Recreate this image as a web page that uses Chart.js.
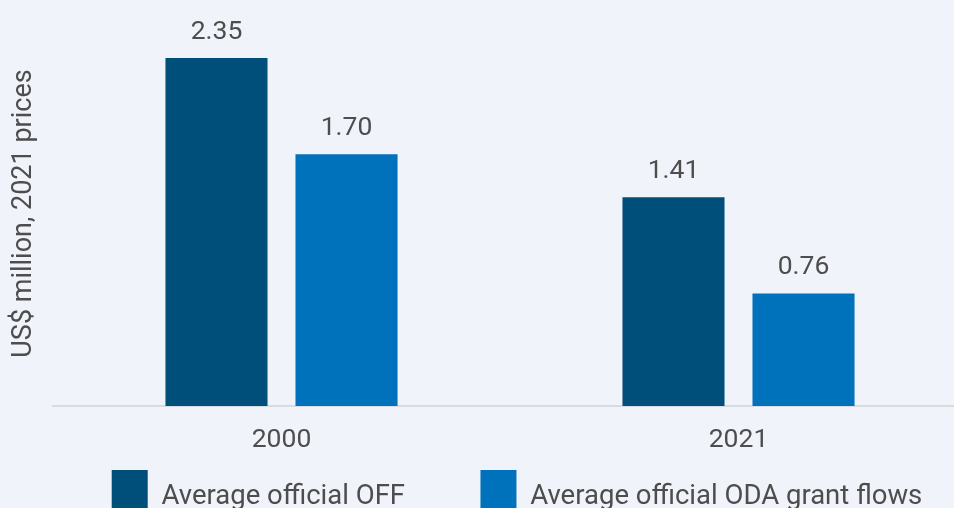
<!DOCTYPE html>
<html>
<head>
<meta charset="utf-8">
<script src="https://cdn.jsdelivr.net/npm/chart.js@4/dist/chart.umd.min.js"></script>
<style>
  html, body { margin: 0; padding: 0; background: #f0f3fa; overflow: hidden; }
  #wrap { width: 1034px; height: 534px; }
</style>
</head>
<body>
<div id="wrap"><canvas id="chart"></canvas></div>
<script>
// === DATA ===
const years = ['2000', '2021'];
const offValues = [2.35, 1.41];
const odaValues = [1.70, 0.76];
const seriesNames = ['Average official OFF', 'Average official ODA grant flows'];

const textColor = '#4d4d4d';
const font = 'Roboto, "Noto Sans", sans-serif';

// value labels above each bar
const barLabels = {
  id: 'barLabels',
  afterDatasetsDraw(chart) {
    const ctx = chart.ctx;
    ctx.save();
    ctx.font = '26.5px ' + font;
    ctx.fillStyle = textColor;
    ctx.textAlign = 'center';
    ctx.textBaseline = 'alphabetic';
    chart.data.datasets.forEach((ds, i) => {
      chart.getDatasetMeta(i).data.forEach((bar, j) => {
        ctx.fillText(ds.data[j].toFixed(2), bar.x, bar.y - 19);
      });
    });
    ctx.restore();
  }
};

new Chart(document.getElementById('chart'), {
  type: 'bar',
  data: {
    labels: years,
    datasets: [
      { label: seriesNames[0], data: offValues, backgroundColor: '#004f7a', borderWidth: 0 },
      { label: seriesNames[1], data: odaValues, backgroundColor: '#0072bb', borderWidth: 0 }
    ]
  },
  options: {
    responsive: true,
    maintainAspectRatio: false,
    animation: false,
    categoryPercentage: 0.569,
    barPercentage: 0.785,
    layout: { padding: { top: 21, left: 0, right: 0, bottom: 0 } },
    plugins: {
      tooltip: { enabled: false },
      legend: {
        position: 'bottom',
        labels: {
          color: textColor,
          font: { family: font, size: 27.5 },
          boxWidth: 36,
          boxHeight: 54,
          padding: 14,
          generateLabels(chart) {
            const items = Chart.defaults.plugins.legend.labels.generateLabels(chart);
            items[0].text += ' '.repeat(9);
            return items;
          }
        }
      }
    },
    scales: {
      x: {
        grid: { display: false, drawTicks: false },
        border: { display: true, color: '#d8dbe0', width: 2 },
        ticks: { color: textColor, font: { family: font, size: 26.5 }, padding: 18 },
        afterFit(scale) { scale.height = 50; }
      },
      y: {
        min: 0,
        max: 2.6,
        grid: { display: false },
        border: { display: false },
        ticks: { display: false },
        title: {
          display: true,
          text: 'US$ million, 2021 prices',
          color: textColor,
          font: { family: font, size: 27 },
          padding: { top: 8, bottom: 0 }
        },
        afterFit(scale) { scale.width = 53; }
      },
      spacer: {
        position: 'right',
        grid: { display: false },
        border: { display: false },
        ticks: { display: false },
        afterFit(scale) { scale.width = 67; }
      }
    }
  },
  plugins: [barLabels]
});
</script>
</body>
</html>
